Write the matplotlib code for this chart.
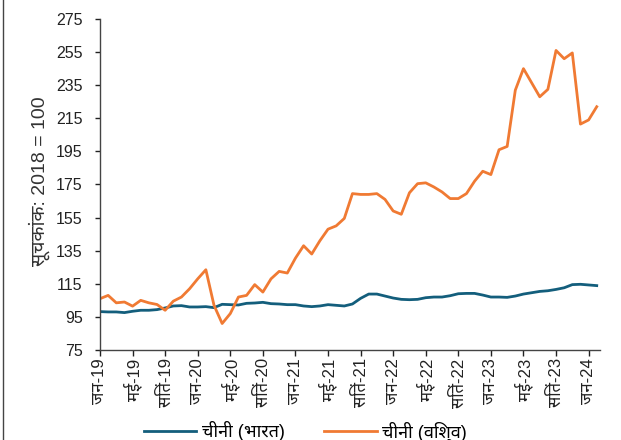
import matplotlib
matplotlib.use('Agg')
import matplotlib.pyplot as plt
from matplotlib.lines import Line2D

plt.rcParams['font.family'] = ['Liberation Sans', 'Noto Sans Devanagari', 'FreeSans']

# monthly index, Jan 2019 .. Feb 2024
india = [98.2, 98.0, 98.0, 97.6, 98.4, 99.0, 99.0, 99.4, 100.4, 101.6,
         101.8, 101.0, 101.0, 101.2, 100.6, 102.6, 102.4, 102.2, 103.2, 103.4,
         103.8, 103.0, 102.8, 102.4, 102.4, 101.6, 101.2, 101.6, 102.4, 102.0,
         101.6, 102.8, 106.2, 108.8, 108.8, 107.6, 106.4, 105.6, 105.4, 105.6,
         106.6, 107.0, 107.0, 107.8, 109.0, 109.2, 109.2, 108.2, 107.0, 107.0,
         106.8, 107.6, 108.8, 109.6, 110.4, 110.8, 111.6, 112.6, 114.5, 114.7,
         114.3, 113.9]
world = [106, 108, 103.5, 104, 101.5, 105, 103.5, 102.5, 99, 104.5,
         107, 112, 118, 123.5, 102, 91, 97, 107, 108, 114.5,
         110, 118, 122.5, 121.5, 130.5, 138, 133, 141, 148, 150,
         154.5, 169.5, 169, 169, 169.5, 166, 159, 157, 170, 175.5,
         176, 173.5, 170.5, 166.5, 166.5, 169.5, 177, 183, 181, 196,
         198, 232, 245, 236.5, 228, 232.5, 256, 251, 254.5, 211.5,
         214, 222]

tick_pos = list(range(0, 61, 4))
tick_labels = ['जन-19', 'मई-19', 'सितं-19', 'जन-20', 'मई-20', 'सितं-20',
               'जन-21', 'मई-21', 'सितं-21', 'जन-22', 'मई-22', 'सितं-22',
               'जन-23', 'मई-23', 'सितं-23', 'जन-24']
y_ticks = list(range(75, 276, 20))

fig = plt.figure(figsize=(6.21, 4.4), dpi=100)
ax = fig.add_axes([100 / 621, 1 - 350 / 440, 500 / 621, 331 / 440])

x = range(len(india))
ax.plot(x, india, color='#135e7c', lw=2.0, label='चीनी (भारत)')
ax.plot(x, world, color='#f07a33', lw=2.0, label='चीनी (विश्व)')

ax.set_xlim(0, 61.4)
ax.set_ylim(75, 275)
ax.set_yticks(y_ticks)
ax.set_xticks(tick_pos)
ax.set_xticklabels(tick_labels, rotation=90)
ax.tick_params(axis='both', colors='#222222', width=1)
ax.tick_params(axis='y', labelsize=11.5, length=3.5, pad=9)
ax.tick_params(axis='x', labelsize=12, length=4, pad=2)
for s in ['top', 'right']:
    ax.spines[s].set_visible(False)
for s in ['left', 'bottom']:
    ax.spines[s].set_color('#444444')
    ax.spines[s].set_linewidth(1)
ax.set_ylabel('सूचकांक: 2018 = 100', fontsize=14, color='#333333')
ax.yaxis.set_label_coords(-0.1, 0.51)

fig.legend(loc='center', bbox_to_anchor=(0.492, 0.02), ncol=2, frameon=False,
           fontsize=13, handlelength=2.9, columnspacing=2.2, handletextpad=0.3)

# left frame edge of the original graphic
fig.add_artist(Line2D([3 / 621, 3 / 621], [0, 1], color='#444444', lw=1))

fig.savefig('out.png', dpi=100)
